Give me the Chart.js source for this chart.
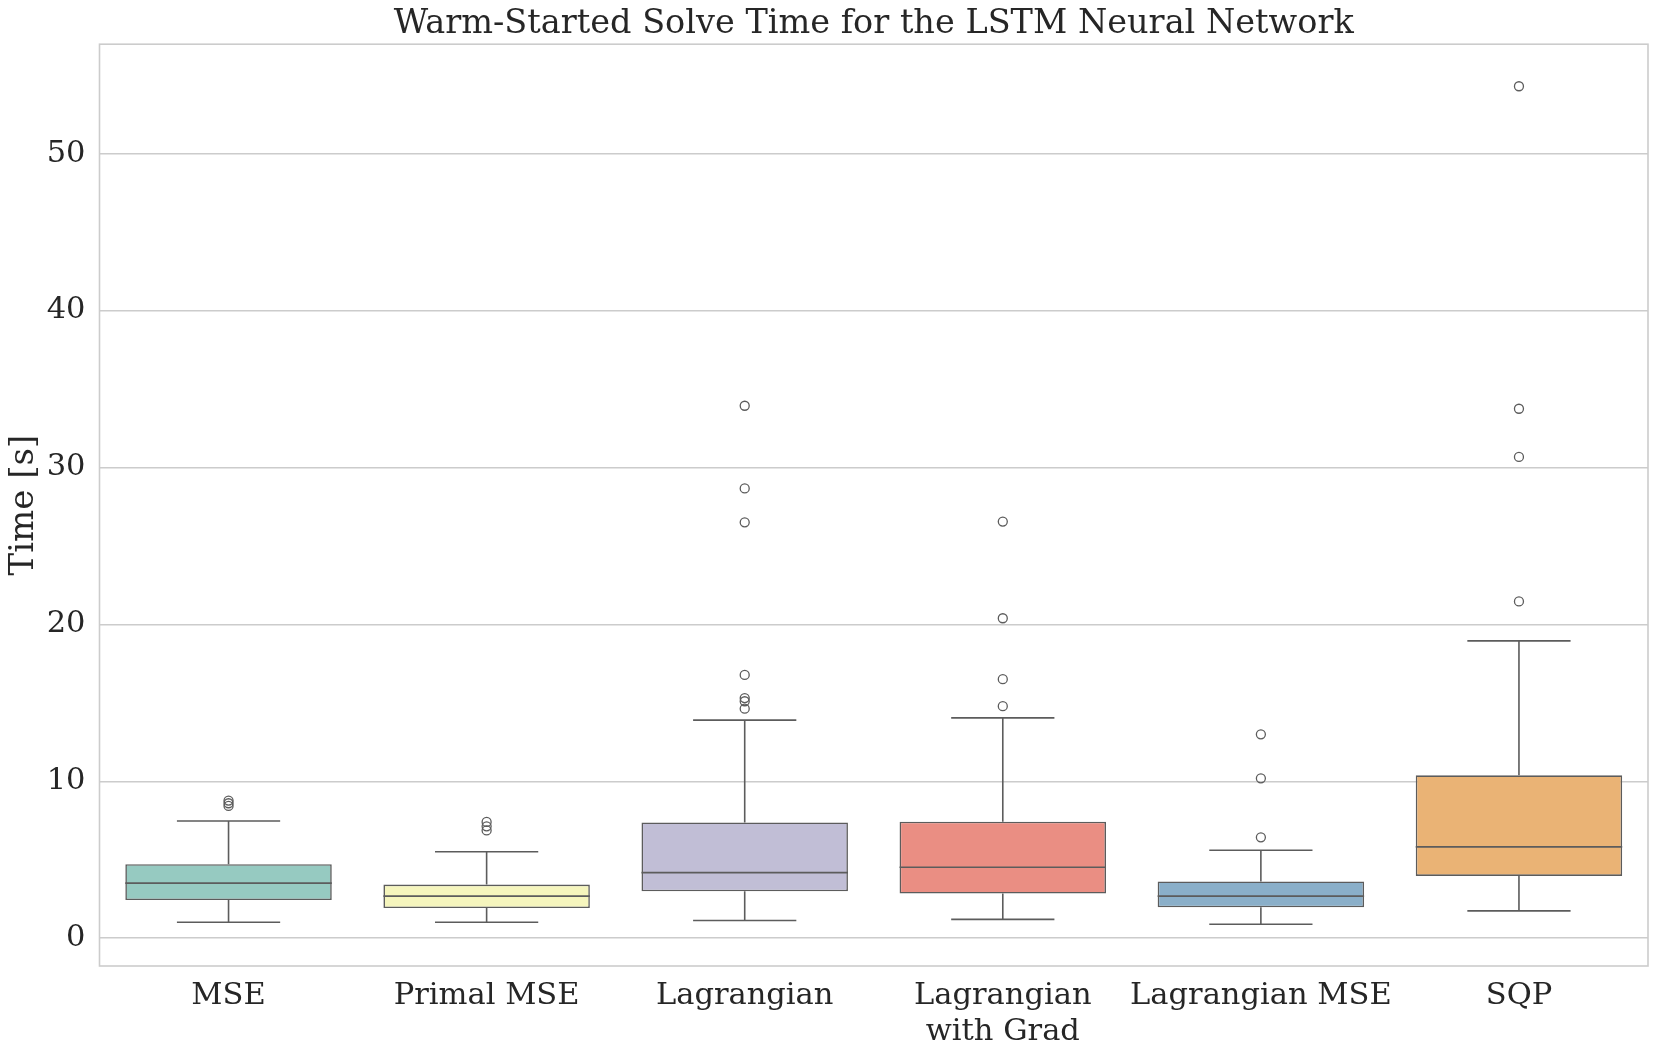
<!DOCTYPE html>
<html><head><meta charset="utf-8">
<script src="https://cdn.jsdelivr.net/npm/chart.js@4/dist/chart.umd.min.js"></script>
<style>html,body{margin:0;padding:0;background:#fff;}#wrap{width:1659px;height:1057px;position:relative;}</style>
</head><body><div id="wrap"><canvas id="c"></canvas></div>
<script>
const categories = ['MSE', 'Primal MSE', 'Lagrangian', ['Lagrangian', 'with Grad'], 'Lagrangian MSE', 'SQP'];
const q1 = [2.43, 1.92, 2.99, 2.85, 1.97, 3.97];
const median = [3.51, 2.68, 4.18, 4.52, 2.68, 5.82];
const q3 = [4.72, 3.42, 7.38, 7.43, 3.62, 10.38];
const whiskerLow = [1.02, 1.02, 1.13, 1.20, 0.89, 1.74];
const whiskerHigh = [7.47, 5.51, 13.90, 14.04, 5.61, 18.95];
const outliers = [
  [8.43, 8.60, 8.77],
  [6.87, 7.13, 7.41],
  [14.63, 15.10, 15.30, 16.78, 26.50, 28.66, 33.93],
  [14.79, 16.51, 20.39, 26.55],
  [6.43, 10.19, 12.99],
  [21.46, 30.67, 33.74, 54.29]
];
const boxColors = ['#96cac1', '#f5f5bd', '#c1bed6', '#ea8e83', '#8aafc9', '#eab375'];
const yTicks = [0, 10, 20, 30, 40, 50];
const yMin = -1.77, yMax = 56.97;

const LINE = '#5c5c5c';
const TEXT = '#262626';
const FONT = "'DejaVu Serif', 'Liberation Serif', serif";

const outlierPoints = [];
outliers.forEach((arr, i) => arr.forEach(v => outlierPoints.push({x: categories[i], y: v})));

const boxPlugin = {
  id: 'boxParts',
  afterDatasetsDraw(chart) {
    const ctx = chart.ctx, ys = chart.scales.y;
    const meta = chart.getDatasetMeta(0);
    ctx.save();
    ctx.strokeStyle = LINE;
    ctx.lineWidth = 1.6;
    categories.forEach((c, i) => {
      const bar = meta.data[i];
      const cx = bar.x;
      const half = bar.width / 2;
      const capHalf = half / 2;
      const yMed = ys.getPixelForValue(median[i]);
      const yQ1 = ys.getPixelForValue(q1[i]);
      const yQ3 = ys.getPixelForValue(q3[i]);
      const yLo = ys.getPixelForValue(whiskerLow[i]);
      const yHi = ys.getPixelForValue(whiskerHigh[i]);
      ctx.beginPath();
      ctx.moveTo(cx - half, yMed); ctx.lineTo(cx + half, yMed);
      ctx.moveTo(cx, yQ3); ctx.lineTo(cx, yHi);
      ctx.moveTo(cx - capHalf, yHi); ctx.lineTo(cx + capHalf, yHi);
      ctx.moveTo(cx, yQ1); ctx.lineTo(cx, yLo);
      ctx.moveTo(cx - capHalf, yLo); ctx.lineTo(cx + capHalf, yLo);
      ctx.stroke();
    });
    ctx.restore();
  },
  afterDraw(chart) {
    const a = chart.chartArea, ctx = chart.ctx;
    ctx.save();
    ctx.strokeStyle = '#cccccc';
    ctx.lineWidth = 1.6;
    ctx.strokeRect(a.left, a.top, a.right - a.left, a.bottom - a.top);
    ctx.restore();
  }
};

new Chart(document.getElementById('c'), {
  type: 'bar',
  data: {
    labels: categories,
    datasets: [
      {
        type: 'bar',
        data: q1.map((v, i) => [v, q3[i]]),
        backgroundColor: boxColors,
        borderColor: LINE,
        borderWidth: 1.6,
        borderSkipped: false,
        categoryPercentage: 0.8,
        barPercentage: 1.0,
        grouped: false,
        order: 2
      },
      {
        type: 'line',
        showLine: false,
        data: outlierPoints,
        pointStyle: 'circle',
        pointRadius: 4.5,
        pointBorderWidth: 1.3,
        pointBorderColor: LINE,
        pointBackgroundColor: 'rgba(0,0,0,0)',
        order: 1
      }
    ]
  },
  options: {
    responsive: true,
    maintainAspectRatio: false,
    animation: false,
    events: [],
    layout: {padding: {left: 2, right: 11, top: 0, bottom: 0}},
    plugins: {
      legend: {display: false},
      tooltip: {enabled: false},
      title: {
        display: true,
        fullSize: false,
        text: 'Warm-Started Solve Time for the LSTM Neural Network',
        color: TEXT,
        font: {family: FONT, size: 33.5, weight: 'normal', lineHeight: 1.2},
        padding: {top: 4, bottom: 0}
      }
    },
    scales: {
      x: {
        type: 'category',
        offset: true,
        grid: {display: false, drawTicks: false},
        border: {display: false},
        ticks: {color: TEXT, font: {family: FONT, size: 30.5, lineHeight: 1.15}, padding: 13, maxRotation: 0, autoSkip: false},
        afterFit(s) { s.height = 91; }
      },
      y: {
        type: 'linear',
        min: yMin, max: yMax,
        grid: {color: '#cccccc', lineWidth: 1.5, drawTicks: false},
        border: {display: false},
        afterBuildTicks(s) { s.ticks = yTicks.map(v => ({value: v})); },
        ticks: {color: TEXT, font: {family: FONT, size: 30.5}, padding: 14, callback: v => String(v)},
        title: {display: true, text: 'Time [s]', color: TEXT, font: {family: FONT, size: 34, lineHeight: 1.2}, padding: {top: 2, bottom: 0}},
        afterFit(s) { s.width = 97.5; }
      }
    }
  },
  plugins: [boxPlugin]
});
</script>
</body></html>
